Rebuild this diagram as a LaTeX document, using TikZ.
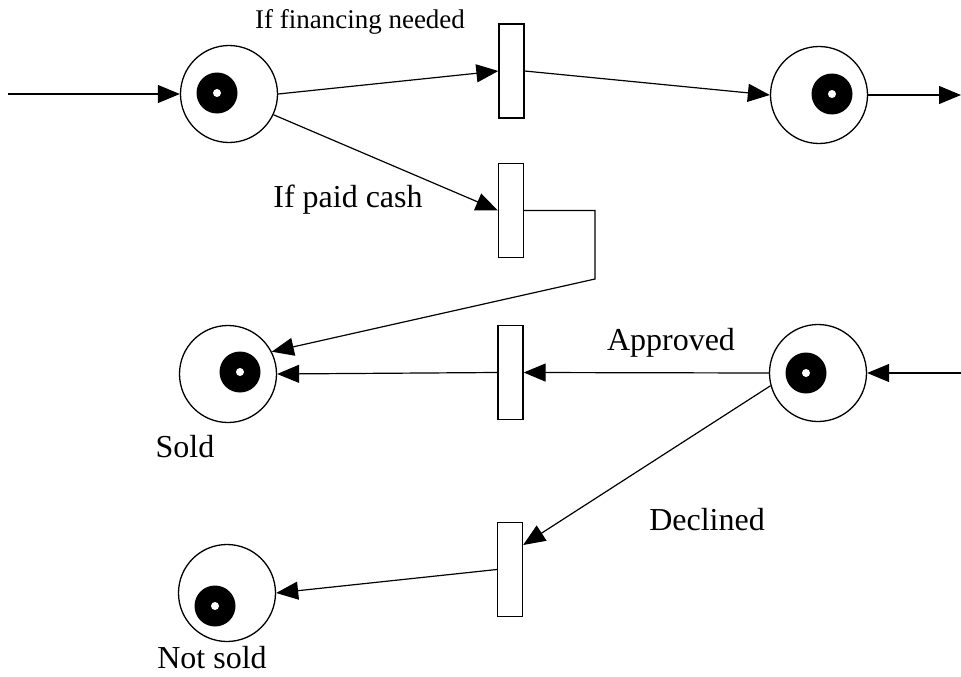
\documentclass[tikz,border=0pt]{standalone}
\usepackage{fontspec}
\setmainfont{Liberation Serif}
\usetikzlibrary{arrows.meta,calc}
\tikzset{
  place/.style={circle,draw,line width=1.3pt,minimum size=97pt,inner sep=0pt},
  trans/.style={rectangle,draw,line width=1.3pt,minimum width=25pt,minimum height=94pt,inner sep=0pt},
  arc/.style={line width=1.2pt,-{Triangle[length=22pt,width=18pt]}},
  lbl/.style={font=\fontsize{32}{34}\selectfont,inner sep=0pt},
  lblsmall/.style={font=\fontsize{27}{30}\selectfont,inner sep=0pt}
}
\newcommand{\mytoken}[1]{\fill #1 circle (20.5pt); \fill[white] #1 circle (4pt);}
\begin{document}
\begin{tikzpicture}[x=1pt,y=-1pt]
\useasboundingbox (0,0) rectangle (961,677);
% places
\node[place] (P1) at (229,94) {};
\node[place] (P2) at (819,95) {};
\node[place] (P3) at (228,374) {};
\node[place] (P4) at (818,373) {};
\node[place] (P5) at (227,593) {};
% tokens
\mytoken{(217,93)}
\mytoken{(832,94)}
\mytoken{(240,372)}
\mytoken{(806,373)}
\mytoken{(215,606)}
% transitions
\node[trans] (T1) at (511.5,71) {};
\node[trans] (T2) at (511,210.5) {};
\node[trans] (T3) at (510.5,372.5) {};
\node[trans] (T4) at (510,569.5) {};
% free ends
\coordinate (in1) at (8,94);
\coordinate (out2) at (961,95);
\coordinate (in4) at (961,373);
\coordinate (c1) at (595,210.5);
\coordinate (c2) at (595,279);
% connectors
\draw[arc] (in1) -- (P1.west);
\draw[arc] (P1.east) -- (T1.west);
\draw[arc] (T1.east) -- (P2.west);
\draw[arc] (P2.east) -- (out2);
\draw[arc] (P1.-25) -- (T2.west);
\draw[arc] (T2.east) -- (c1) -- (c2) -- (P3.27);
\draw[arc] (T3.west) -- (P3.east);
\draw[arc] (P4.west) -- (T3.east);
\draw[arc] (in4) -- (P4.east);
\draw[arc] (P4.195) -- ($(T4.east)+(0,-24.5)$);
\draw[arc] (T4.west) -- (P5.east);
% labels
\node[lblsmall] (L1) at (360,22) {If financing needed};
\node[lbl] (L2) at (348,200) {If paid cash};
\node[lbl] (L3) at (185,447) {Sold};
\node[lbl] (L4) at (671,343) {Approved};
\node[lbl] (L5) at (707,520) {Declined};
\node[lbl] (L6) at (212,658) {Not sold};
\end{tikzpicture}
\end{document}
